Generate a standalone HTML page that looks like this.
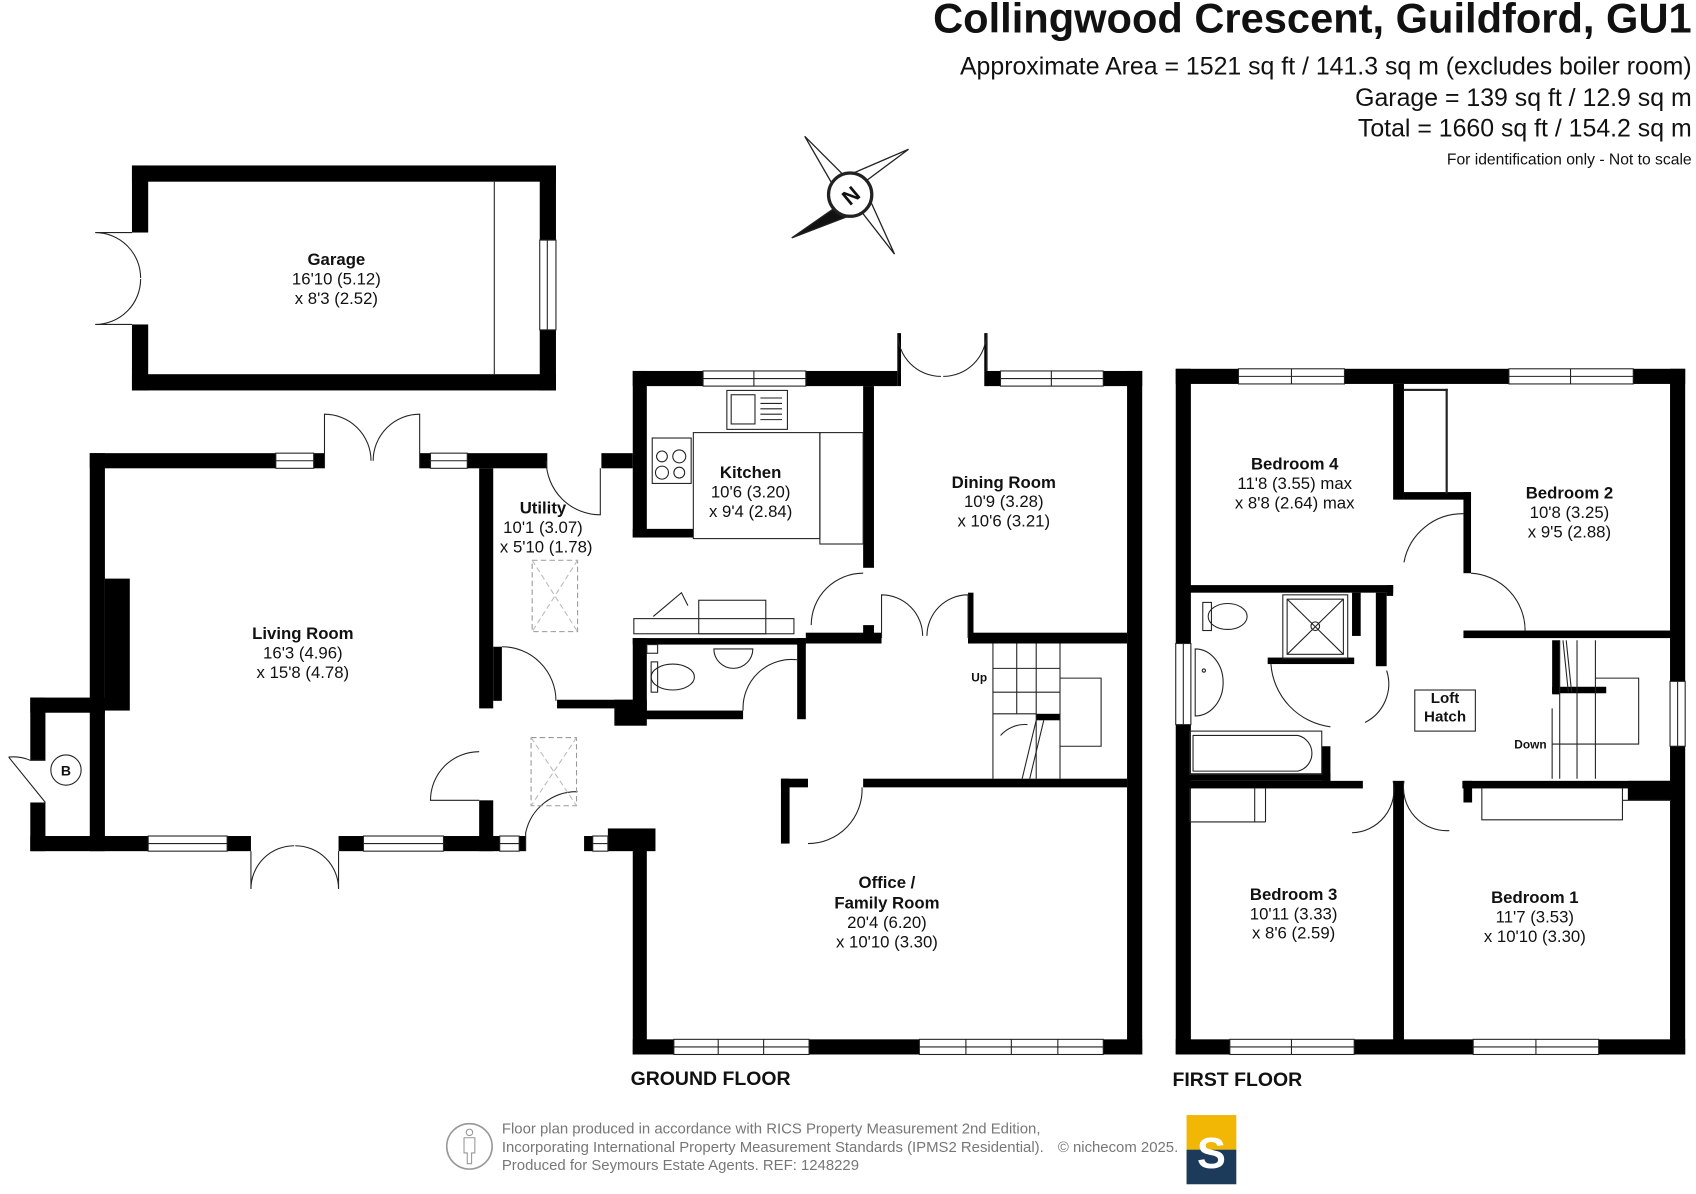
<!DOCTYPE html>
<html><head><meta charset="utf-8"><style>
html,body{margin:0;padding:0;background:#fff}
svg{display:block}
text{font-family:"Liberation Sans",Arial,sans-serif;fill:#111}
.b{font-weight:bold}
</style></head><body>
<svg width="1696" height="1194" viewBox="0 0 1568 1104" preserveAspectRatio="none" xmlns="http://www.w3.org/2000/svg">
<rect width="1568" height="1104" fill="#fff"/>
<!-- Header -->
<text x="1564" y="30" text-anchor="end" class="b" font-size="38.5">Collingwood Crescent, Guildford, GU1</text>
<text x="1564" y="69" text-anchor="end" font-size="23">Approximate Area = 1521 sq ft / 141.3 sq m (excludes boiler room)</text>
<text x="1564" y="98" text-anchor="end" font-size="23">Garage = 139 sq ft / 12.9 sq m</text>
<text x="1564" y="126" text-anchor="end" font-size="23">Total = 1660 sq ft / 154.2 sq m</text>
<text x="1564" y="152" text-anchor="end" font-size="14.5">For identification only - Not to scale</text>

<!-- Compass -->
<g stroke="#222" stroke-width="1.2" fill="#fff">
<polygon points="744,126 785,167 774,178"/>
<polygon points="840,138 797,170 789,160"/>
<polygon points="827,235 792,190 803,182"/>
<polygon points="732,220 775,190 784,200" fill="#111"/>
<circle cx="786" cy="180" r="20" stroke-width="3"/>
</g>
<text x="786" y="188" text-anchor="middle" class="b" font-size="20" transform="rotate(-40 786 180)">N</text>

<g fill="#000">
<!-- Garage -->
<rect x="122" y="153" width="392" height="15"/>
<rect x="122" y="346" width="392" height="15"/>
<rect x="122" y="153" width="15" height="62"/>
<rect x="122" y="300" width="15" height="61"/>
<rect x="499" y="153" width="15" height="69"/>
<rect x="499" y="305" width="15" height="56"/>
<!-- Living room -->
<rect x="83" y="419" width="172" height="14"/>
<rect x="290" y="419" width="10" height="14"/>
<rect x="388" y="419" width="10" height="14"/>
<rect x="432" y="419" width="74" height="14"/>
<rect x="83" y="419" width="14" height="368"/>
<rect x="97" y="535" width="23" height="122"/>
<rect x="28" y="645" width="69" height="14"/>
<rect x="28" y="645" width="14" height="58"/>
<rect x="28" y="742" width="14" height="45"/>
<rect x="28" y="773" width="109" height="14"/>
<rect x="210" y="773" width="22" height="14"/>
<rect x="313" y="773" width="23" height="14"/>
<rect x="410" y="773" width="52" height="14"/>
<rect x="443" y="433" width="13" height="222"/>
<rect x="443" y="740" width="13" height="47"/>
<rect x="480" y="773" width="6" height="14"/>
<rect x="540" y="773" width="8" height="14"/>
<rect x="562" y="766" width="44" height="21"/>
<!-- utility -->
<rect x="556" y="419" width="29" height="14"/>
<rect x="456" y="598" width="8" height="50"/>
<rect x="515" y="647" width="70" height="8"/>
<rect x="568" y="647" width="30" height="24"/>
<!-- kitchen -->
<rect x="585" y="343" width="65" height="14"/>
<rect x="745" y="343" width="85" height="14"/>
<rect x="585" y="343" width="13" height="154"/>
<rect x="585" y="489" width="56" height="8"/>
<rect x="798" y="357" width="10" height="168"/>
<rect x="798" y="578" width="10" height="12"/>
<!-- dining -->
<rect x="830" y="308" width="3" height="49"/>
<rect x="910" y="308" width="3" height="49"/>
<rect x="912" y="343" width="13" height="14"/>
<rect x="1020" y="343" width="36" height="14"/>
<rect x="1042" y="343" width="14" height="632"/>
<rect x="895" y="585" width="147" height="10"/>
<rect x="895" y="548" width="5" height="47"/>
<rect x="745" y="585" width="70" height="10"/>
<!-- WC -->
<rect x="585" y="590" width="13" height="75"/>
<rect x="585" y="657" width="102" height="8"/>
<rect x="585" y="590" width="160" height="6"/>
<rect x="737" y="590" width="8" height="75"/>
<!-- office -->
<rect x="585" y="767" width="13" height="208"/>
<rect x="585" y="961" width="38" height="14"/>
<rect x="748" y="961" width="102" height="14"/>
<rect x="1020" y="961" width="36" height="14"/>
<rect x="798" y="720" width="244" height="8"/>
<rect x="722" y="720" width="25" height="8"/>
<rect x="722" y="720" width="8" height="60"/>
<rect x="958" y="660" width="22" height="6"/>

<!-- First floor -->
<rect x="1087" y="341" width="58" height="14"/>
<rect x="1243" y="341" width="152" height="14"/>
<rect x="1510" y="341" width="48" height="14"/>
<rect x="1087" y="961" width="50" height="14"/>
<rect x="1252" y="961" width="110" height="14"/>
<rect x="1478" y="961" width="80" height="14"/>
<rect x="1087" y="341" width="14" height="254"/>
<rect x="1087" y="670" width="14" height="305"/>
<rect x="1544" y="341" width="14" height="289"/>
<rect x="1544" y="690" width="14" height="285"/>
<rect x="1100" y="541" width="188" height="7"/>
<rect x="1288" y="355" width="10" height="107"/>
<rect x="1298" y="455" width="62" height="7"/>
<rect x="1353" y="455" width="7" height="75"/>
<rect x="1353" y="583" width="192" height="7"/>
<rect x="1282" y="541" width="6" height="10"/>
<rect x="1272" y="548" width="10" height="68"/>
<rect x="1250" y="548" width="8" height="40"/>
<rect x="1172" y="608" width="80" height="6"/>
<rect x="1100" y="715" width="130" height="7"/>
<rect x="1222" y="690" width="8" height="32"/>
<rect x="1100" y="722" width="160" height="7"/>
<rect x="1288" y="722" width="10" height="253"/>
<rect x="1352" y="722" width="193" height="7"/>
<rect x="1353" y="722" width="8" height="20"/>
<rect x="1505" y="722" width="40" height="18"/>
<rect x="1435" y="592" width="7" height="50"/>
<rect x="1435" y="635" width="50" height="6"/>
</g>

<!-- windows and thin lines -->
<g fill="none" stroke="#222" stroke-width="1">
<rect x="499" y="222" width="15" height="83"/><line x1="506" y1="222" x2="506" y2="305"/>
<line x1="457" y1="168" x2="457" y2="346"/>
<rect x="255" y="419" width="35" height="14"/><line x1="255" y1="426" x2="290" y2="426"/>
<rect x="398" y="419" width="34" height="14"/><line x1="398" y1="426" x2="432" y2="426"/>
<rect x="137" y="773" width="73" height="14"/><line x1="137" y1="780" x2="210" y2="780"/>
<rect x="336" y="773" width="74" height="14"/><line x1="336" y1="780" x2="410" y2="780"/>
<rect x="462" y="773" width="18" height="14"/><line x1="462" y1="780" x2="480" y2="780"/>
<rect x="548" y="773" width="14" height="14"/><line x1="548" y1="780" x2="562" y2="780"/>
<rect x="650" y="343" width="95" height="14"/><line x1="650" y1="350" x2="745" y2="350"/><line x1="697" y1="343" x2="697" y2="357"/>
<rect x="925" y="343" width="95" height="14"/><line x1="925" y1="350" x2="1020" y2="350"/><line x1="972" y1="343" x2="972" y2="357"/>
<rect x="623" y="961" width="125" height="14"/><line x1="623" y1="968" x2="748" y2="968"/><line x1="664" y1="961" x2="664" y2="975"/><line x1="706" y1="961" x2="706" y2="975"/>
<rect x="850" y="961" width="170" height="14"/><line x1="850" y1="968" x2="1020" y2="968"/><line x1="893" y1="961" x2="893" y2="975"/><line x1="935" y1="961" x2="935" y2="975"/><line x1="978" y1="961" x2="978" y2="975"/>
<rect x="1145" y="341" width="98" height="14"/><line x1="1145" y1="348" x2="1243" y2="348"/><line x1="1194" y1="341" x2="1194" y2="355"/>
<rect x="1395" y="341" width="115" height="14"/><line x1="1395" y1="348" x2="1510" y2="348"/><line x1="1452" y1="341" x2="1452" y2="355"/>
<rect x="1137" y="961" width="115" height="14"/><line x1="1137" y1="968" x2="1252" y2="968"/><line x1="1194" y1="961" x2="1194" y2="975"/>
<rect x="1362" y="961" width="116" height="14"/><line x1="1362" y1="968" x2="1478" y2="968"/><line x1="1420" y1="961" x2="1420" y2="975"/>
<rect x="1087" y="595" width="14" height="75"/><line x1="1094" y1="595" x2="1094" y2="670"/>
<rect x="1544" y="630" width="14" height="60"/><line x1="1551" y1="630" x2="1551" y2="690"/>
<!-- door arcs -->
<path d="M122 215 H88 A42 42 0 0 1 130 257 M122 300 H88 A42 42 0 0 0 130 258"/>
<path d="M300 433 V383 A43 43 0 0 1 343 426 M388 433 V383 A43 43 0 0 0 345 426"/>
<path d="M232 787 V822 A40 40 0 0 1 272 782 M313 787 V822 A40 40 0 0 0 273 782"/>
<path d="M830 343 V308 A40 40 0 0 0 870 348 M912 343 V308 A40 40 0 0 1 872 348"/>
<path d="M505 426 A50 50 0 0 0 555 476 V433"/>
<path d="M464 598 A50 50 0 0 1 514 648"/>
<path d="M443 695 A45 45 0 0 0 398 740 H443"/>
<path d="M486 787 V770 A48 48 0 0 1 534 732"/>
<path d="M750 578 A48 48 0 0 1 798 530"/>
<path d="M815 590 V550 A38 38 0 0 1 853 588 M895 590 V550 A38 38 0 0 0 857 588"/>
<path d="M737 610 A45 45 0 0 0 687 657"/>
<path d="M747 780 A50 50 0 0 0 797 728"/>
<path d="M42 703 L28 703 A40 40 0 0 0 8 700 M42 742 L8 700"/>
<path d="M1298 520 A55 55 0 0 1 1353 475"/>
<path d="M1360 530 A53 53 0 0 1 1410 583"/>
<path d="M1175 614 A63 63 0 0 0 1230 672"/>
<path d="M1282 620 A40 40 0 0 1 1262 668"/>
<path d="M1288 722 A40 40 0 0 1 1250 770 M1298 722 A40 40 0 0 0 1340 768"/>
<!-- rooflights -->
<rect x="492" y="518" width="42" height="66" stroke="#999" stroke-dasharray="5 3"/>
<path d="M492 518 L534 584 M534 518 L492 584" stroke="#bbb" stroke-dasharray="5 3"/>
<rect x="491" y="682" width="42" height="63" stroke="#999" stroke-dasharray="5 3"/>
<path d="M491 682 L533 745 M533 682 L491 745" stroke="#bbb" stroke-dasharray="5 3"/>
<!-- kitchen fittings -->
<rect x="641" y="400" width="117" height="98"/>
<rect x="758" y="400" width="40" height="103"/>
<rect x="672" y="361" width="56" height="36"/><rect x="676" y="365" width="22" height="27"/>
<path d="M703 368 H723 M703 373 H723 M703 378 H723 M703 383 H723 M703 388 H723"/>
<rect x="603" y="405" width="36" height="42"/>
<circle cx="612" cy="422" r="5"/><circle cx="628" cy="422" r="6"/><circle cx="612" cy="437" r="6"/><circle cx="628" cy="437" r="5"/>
<rect x="586" y="572" width="148" height="14"/>
<rect x="646" y="555" width="62" height="31"/>
<path d="M604 570 L630 548 L636 560"/>
<!-- WC fittings -->
<ellipse cx="622" cy="626" rx="20" ry="12"/><rect x="602" y="612" width="6" height="28"/>
<path d="M660 600 A18 18 0 0 0 696 600 Z"/>
<rect x="598" y="596" width="10" height="8"/>
<!-- stairs ground -->
<path d="M918 595 V720 M918 660 H958 M958 595 V720 M940 595 V660 M980 595 V720 M918 618 H980 M918 640 H980 M980 627 H1018 V690 H980"/>
<path d="M958 666 L945 720 M965 666 L952 720"/>
<path d="M925 680 A30 30 0 0 1 950 670"/>
<!-- boiler -->
<circle cx="61" cy="712" r="14"/>
<!-- first floor fittings -->
<rect x="1186" y="550" width="60" height="59"/><rect x="1190" y="554" width="52" height="51"/>
<path d="M1190 554 L1242 605 M1242 554 L1190 605"/><circle cx="1216" cy="579" r="4"/>
<ellipse cx="1135" cy="570" rx="18" ry="12"/><rect x="1112" y="557" width="8" height="26"/>
<path d="M1105 600 A25 30 0 0 1 1105 662 Z"/><circle cx="1113" cy="620" r="1.5"/>
<rect x="1100" y="676" width="122" height="40" rx="0"/><path d="M1103 680 H1200 A17 17 0 0 1 1200 713 H1103 Z"/>
<rect x="1337" y="360" width="1" height="96"/><rect x="1298" y="360" width="40" height="1"/>
<path d="M1100 729 V760 M1170 729 V760 M1100 760 H1170 M1160 729 V760"/>
<path d="M1370 729 V758 H1500 V729 M1500 740 H1545"/>
<path d="M1442 592 V720 M1458 592 V720 M1475 592 V720 M1435 655 V720 M1435 688 H1515 V627 H1475 M1445 592 L1450 640 M1448 592 L1453 640"/>
</g>
<rect x="1308" y="638" width="56" height="38" fill="none" stroke="#222"/>

<!-- labels -->
<g font-size="15.5" text-anchor="middle">
<text x="311" y="245" class="b">Garage</text><text x="311" y="263">16'10 (5.12)</text><text x="311" y="281">x 8'3 (2.52)</text>
<text x="280" y="591" class="b">Living Room</text><text x="280" y="609">16'3 (4.96)</text><text x="280" y="627">x 15'8 (4.78)</text>
<text x="502" y="475" class="b">Utility</text><text x="502" y="493">10'1 (3.07)</text><text x="505" y="511">x 5'10 (1.78)</text>
<text x="694" y="442" class="b">Kitchen</text><text x="694" y="460">10'6 (3.20)</text><text x="694" y="478">x 9'4 (2.84)</text>
<text x="928" y="451" class="b">Dining Room</text><text x="928" y="469">10'9 (3.28)</text><text x="928" y="487">x 10'6 (3.21)</text>
<text x="820" y="821" class="b">Office /</text><text x="820" y="840" class="b">Family Room</text><text x="820" y="858">20'4 (6.20)</text><text x="820" y="876">x 10'10 (3.30)</text>
<text x="1197" y="434" class="b">Bedroom 4</text><text x="1197" y="452">11'8 (3.55) max</text><text x="1197" y="470">x 8'8 (2.64) max</text>
<text x="1451" y="461" class="b">Bedroom 2</text><text x="1451" y="479">10'8 (3.25)</text><text x="1451" y="497">x 9'5 (2.88)</text>
<text x="1196" y="832" class="b">Bedroom 3</text><text x="1196" y="850">10'11 (3.33)</text><text x="1196" y="868">x 8'6 (2.59)</text>
<text x="1419" y="835" class="b">Bedroom 1</text><text x="1419" y="853">11'7 (3.53)</text><text x="1419" y="871">x 10'10 (3.30)</text>
<text x="1336" y="650" class="b" font-size="14">Loft</text><text x="1336" y="667" class="b" font-size="14">Hatch</text>
<text x="61" y="717" class="b" font-size="13">B</text>
</g>
<text x="898" y="630" class="b" font-size="11">Up</text>
<text x="1400" y="692" class="b" font-size="11">Down</text>
<text x="583" y="1003" class="b" font-size="18">GROUND FLOOR</text>
<text x="1084" y="1004" class="b" font-size="18">FIRST FLOOR</text>

<!-- footer -->
<circle cx="434" cy="1060" r="21" fill="none" stroke="#999" stroke-width="1.5"/>
<path d="M429 1052 h10 v14 h-3 v10 h-4 v-10 h-3z" fill="none" stroke="#999"/><circle cx="434" cy="1047" r="3" fill="none" stroke="#999"/>
<g font-size="13.8"><text x="464" y="1048" style="fill:#777">Floor plan produced in accordance with RICS Property Measurement 2nd Edition,</text>
<text x="464" y="1065" style="fill:#777">Incorporating International Property Measurement Standards (IPMS2 Residential).</text>
<text x="464" y="1082" style="fill:#777">Produced for Seymours Estate Agents.    REF: 1248229</text>
<text x="978" y="1065" style="fill:#777">© nichecom 2025.</text></g>
<rect x="1097" y="1031" width="46" height="32" fill="#f2b705"/>
<rect x="1097" y="1063" width="46" height="32" fill="#1c3b5a"/>
<text x="1120" y="1080" text-anchor="middle" font-size="40" class="b" style="fill:#fff">S</text>
</svg>
</body></html>
